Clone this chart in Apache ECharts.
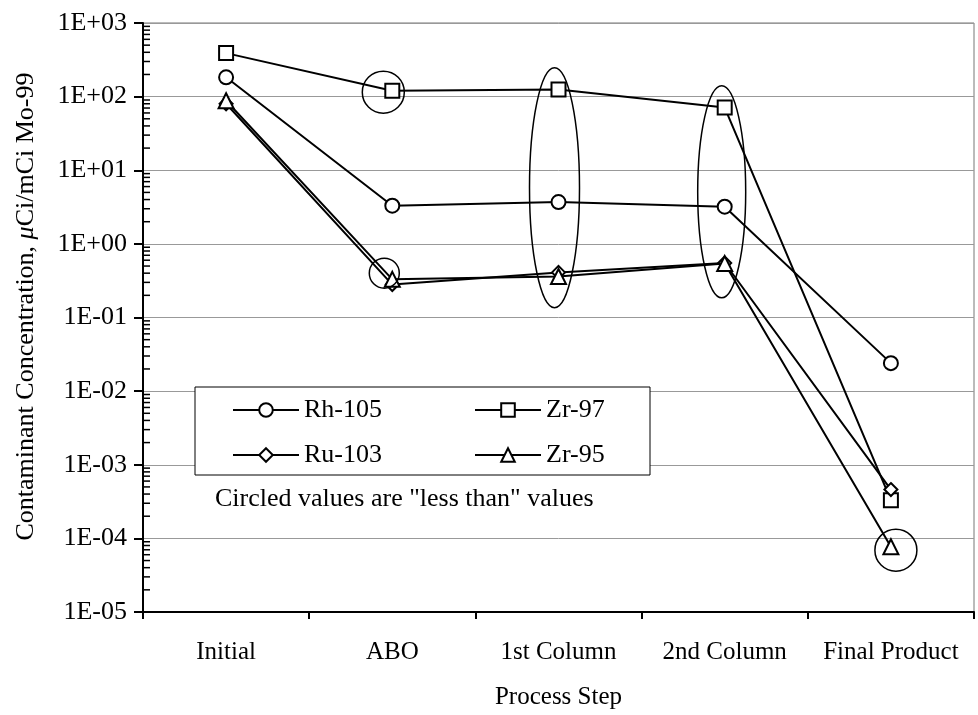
<!DOCTYPE html>
<html>
<head>
<meta charset="utf-8">
<script src="https://cdn.jsdelivr.net/npm/echarts@6/dist/echarts.min.js"></script>
<style>
html,body{margin:0;padding:0;background:#fff;}
#chart{width:978px;height:715px;}
</style>
</head>
<body>
<div id="chart"></div>
<script>
// ---- data ----
const categories = ['Initial', 'ABO', '1st Column', '2nd Column', 'Final Product'];
const seriesNames = ['Rh-105', 'Zr-97', 'Ru-103', 'Zr-95'];
const rh105 = [183, 3.3, 3.7, 3.2, 0.024];
const zr97 = [390, 120, 125, 71, 0.00033];
const ru103 = [80, 0.28, 0.41, 0.55, 0.00046];
const zr95 = [88, 0.33, 0.36, 0.54, 0.000077];
const yTickLabels = ['1E-05', '1E-04', '1E-03', '1E-02', '1E-01', '1E+00', '1E+01', '1E+02', '1E+03'];
const yMinExp = -5;
const noteText = 'Circled values are "less than" values';
// circled ("less than") annotations: category index and centre value
const circledCats = [1, 1, 2, 3, 4];
const circledCentres = [115, 0.40, 5.8, 5.1, 0.000069];

// ---- style / geometry (not data) ----
const circledShapes = [
  {dx: -9, rx: 21, ry: 21},
  {dx: -8, rx: 15, ry: 15},
  {dx: -4, rx: 25, ry: 120},
  {dx: -3, rx: 24, ry: 106},
  {dx: 5, rx: 21, ry: 21}
];
const FONT = '"Liberation Serif", "Times New Roman", serif';
const chart = echarts.init(document.getElementById('chart'), null, {renderer: 'canvas'});

const symbols = ['circle', 'rect', 'diamond', 'triangle'];
const sizes = [14, 14, 13, 15];
const dataSets = [rh105, zr97, ru103, zr95];

const series = seriesNames.map((n, i) => ({
  name: n,
  type: 'line',
  data: dataSets[i],
  symbol: symbols[i],
  symbolSize: sizes[i],
  showAllSymbol: true,
  lineStyle: {color: '#000', width: 2},
  itemStyle: {color: '#fff', borderColor: '#000', borderWidth: 2},
  emphasis: {disabled: true},
  animation: false,
  z: 3 + i
}));

const legendCommon = {
  orient: 'horizontal',
  padding: 0,
  itemWidth: 66,
  itemHeight: 17,
  itemGap: 92,
  textStyle: {fontFamily: FONT, fontSize: 26, color: '#000'},
  selectedMode: false,
  z: 10
};

chart.setOption({
  animation: false,
  backgroundColor: '#fff',
  grid: {left: 143, right: 4, top: 23, bottom: 103, show: true, borderColor: '#777', borderWidth: 1, containLabel: false},
  xAxis: {
    type: 'category',
    data: categories,
    boundaryGap: true,
    axisLine: {lineStyle: {color: '#000', width: 2}},
    axisTick: {show: true, length: 7, lineStyle: {color: '#000', width: 2}},
    axisLabel: {fontFamily: FONT, fontSize: 25, color: '#000', margin: 28, interval: 0},
    name: 'Process Step',
    nameLocation: 'middle',
    nameGap: 73,
    nameTextStyle: {fontFamily: FONT, fontSize: 25, color: '#000'},
    splitLine: {show: false}
  },
  yAxis: {
    type: 'log',
    logBase: 10,
    min: 1e-5,
    max: 1e3,
    interval: 1,
    axisLine: {show: true, lineStyle: {color: '#000', width: 2}},
    axisTick: {show: true, length: 9, lineStyle: {color: '#000', width: 2}},
    axisLabel: {
      fontFamily: FONT, fontSize: 26, color: '#000', margin: 16,
      formatter: function (v) {
        const e = Math.round(Math.log10(v));
        return yTickLabels[e - yMinExp] || '';
      }
    },
    splitLine: {show: true, lineStyle: {color: '#999', width: 1}},
    name: 'Contaminant Concentration, {i|μ}Ci/mCi Mo-99',
    nameLocation: 'middle',
    nameGap: 104,
    nameRotate: 90,
    nameTextStyle: {
      fontFamily: FONT, fontSize: 26, color: '#000',
      padding: [0, 0, 0, 22],
      rich: {i: {fontFamily: FONT, fontSize: 26, fontStyle: 'italic', color: '#000'}}
    }
  },
  legend: [
    Object.assign({data: [seriesNames[0], seriesNames[1]], left: 232, top: 397}, legendCommon),
    Object.assign({data: [seriesNames[2], seriesNames[3]], left: 232, top: 442}, legendCommon)
  ],
  series: series
});

function drawExtras() {
  const g = [];
  const grid = chart.getModel().getComponent('grid').coordinateSystem.getRect();
  const xAxisLeft = grid.x;
  // minor ticks on inside of y axis at log positions
  for (let e = yMinExp; e < yMinExp + yTickLabels.length - 1; e++) {
    for (let m = 2; m <= 9; m++) {
      const y = chart.convertToPixel({yAxisIndex: 0}, m * Math.pow(10, e));
      g.push({type: 'line', shape: {x1: xAxisLeft, y1: y, x2: xAxisLeft + 7, y2: y},
        style: {stroke: '#000', lineWidth: 1.5}, z: 5, silent: true});
    }
  }
  // legend box
  g.push({type: 'rect', shape: {x: 195, y: 387, width: 455, height: 88},
    style: {fill: '#fff', stroke: '#000', lineWidth: 1}, z: 1, silent: true});
  // note text
  g.push({type: 'text', x: 215, y: 499, style: {text: noteText, font: '26px ' + FONT, fill: '#000', textVerticalAlign: 'middle'}, z: 5, silent: true});
  // circled annotations
  circledCats.forEach(function (c, i) {
    const p = chart.convertToPixel({xAxisIndex: 0, yAxisIndex: 0}, [c, circledCentres[i]]);
    const s = circledShapes[i];
    g.push({type: 'ellipse', shape: {cx: p[0] + s.dx, cy: p[1], rx: s.rx, ry: s.ry},
      style: {fill: 'none', stroke: '#000', lineWidth: 1.5}, z: 20, silent: true});
  });
  chart.setOption({graphic: {elements: g}});
}
drawExtras();
</script>
</body>
</html>
